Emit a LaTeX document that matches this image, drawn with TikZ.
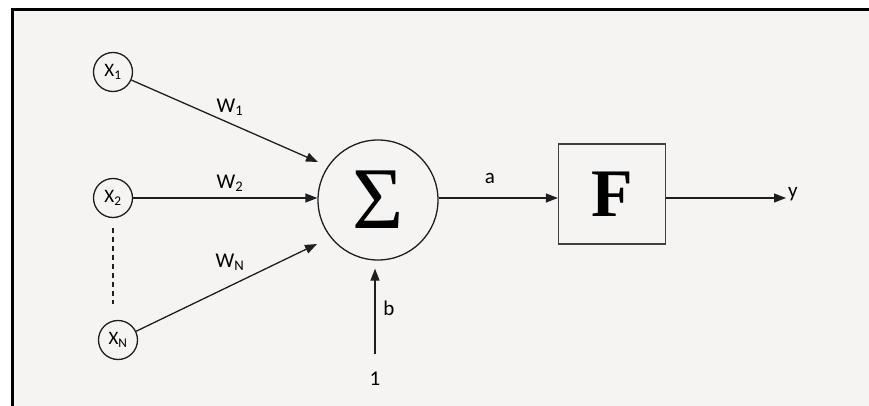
\documentclass[tikz,border=0pt]{standalone}
\usepackage{fontspec}
\setmainfont{Carlito}
\newfontfamily\timesfont{Liberation Serif}
\usetikzlibrary{arrows.meta}

\definecolor{paper}{HTML}{F5F4F3}
\definecolor{ink}{HTML}{1E1E1E}

\begin{document}
\begin{tikzpicture}[
    x=1pt, y=-1pt,
    inp/.style={draw=ink, circle, line width=1.3pt, minimum size=39pt, inner sep=0pt, font=\fontsize{19}{21}\selectfont},
    sumnode/.style={draw=ink, circle, line width=1.3pt, minimum size=120pt, inner sep=0pt},
    fnode/.style={draw=ink!85, line width=1.3pt, minimum width=107pt, minimum height=100pt, inner sep=0pt},
    lbl/.style={font=\fontsize{21}{23}\selectfont, inner sep=2pt},
    arrow/.style={-{Triangle[length=12pt, width=9pt]}, line width=1.3pt, draw=ink}
]
% frame and background
\useasboundingbox (0,0) rectangle (869,406);
\fill[white] (0,0) rectangle (869,406);
\fill[paper] (12,9) rectangle (869,406);
\draw[black, line width=3pt] (12.5,406) -- (12.5,9.5) -- (869,9.5);

% inputs
\node[inp] (x1) at (113,72) {X\textsubscript{1}};
\node[inp] (x2) at (113,198) {X\textsubscript{2}};
\node[inp] (xn) at (118,340) {X\textsubscript{N}};

% summing junction and activation
\node[sumnode] (sum) at (378,200) {\timesfont\fontsize{88}{88}\selectfont\raisebox{-4pt}{Σ}};
\node[fnode] (f) at (612,194) {\timesfont\bfseries\fontsize{68}{68}\selectfont F};

\coordinate (in1) at (318,162);
\coordinate (inN) at (317,244);

% weighted inputs
\draw[arrow] (x1) -- (in1);
\draw[arrow] (x2.east) -- (x2.east -| sum.west);
\draw[arrow] (xn) -- (inN);
\draw[line width=1.3pt, draw=ink, dash pattern=on 5pt off 4pt, shorten <=10pt, shorten >=16pt]
    (x2.south) -- (x2.south |- xn.north);

\node[lbl] (w1) at (230,107) {W\textsubscript{1}};
\node[lbl] (w2) at (230,183) {W\textsubscript{2}};
\node[lbl] (wn) at (230,262) {W\textsubscript{N}};

% bias
\node[lbl] (one) at (375,379) {1};
\draw[arrow, shorten <=16pt, shorten >=8pt] (one.north) -- (one.north |- sum.south);
\node[lbl] (b) at (389,308) {b};

% activation and output
\draw[arrow] (sum.east |- x2.east) -- (x2.east -| f.west);
\node[lbl] (a) at (490,178) {a};
\node[lbl, anchor=west] (y) at (786,194) {y};
\draw[arrow] (f.east |- x2.east) -- (y.west |- x2.east);

\end{tikzpicture}
\end{document}
